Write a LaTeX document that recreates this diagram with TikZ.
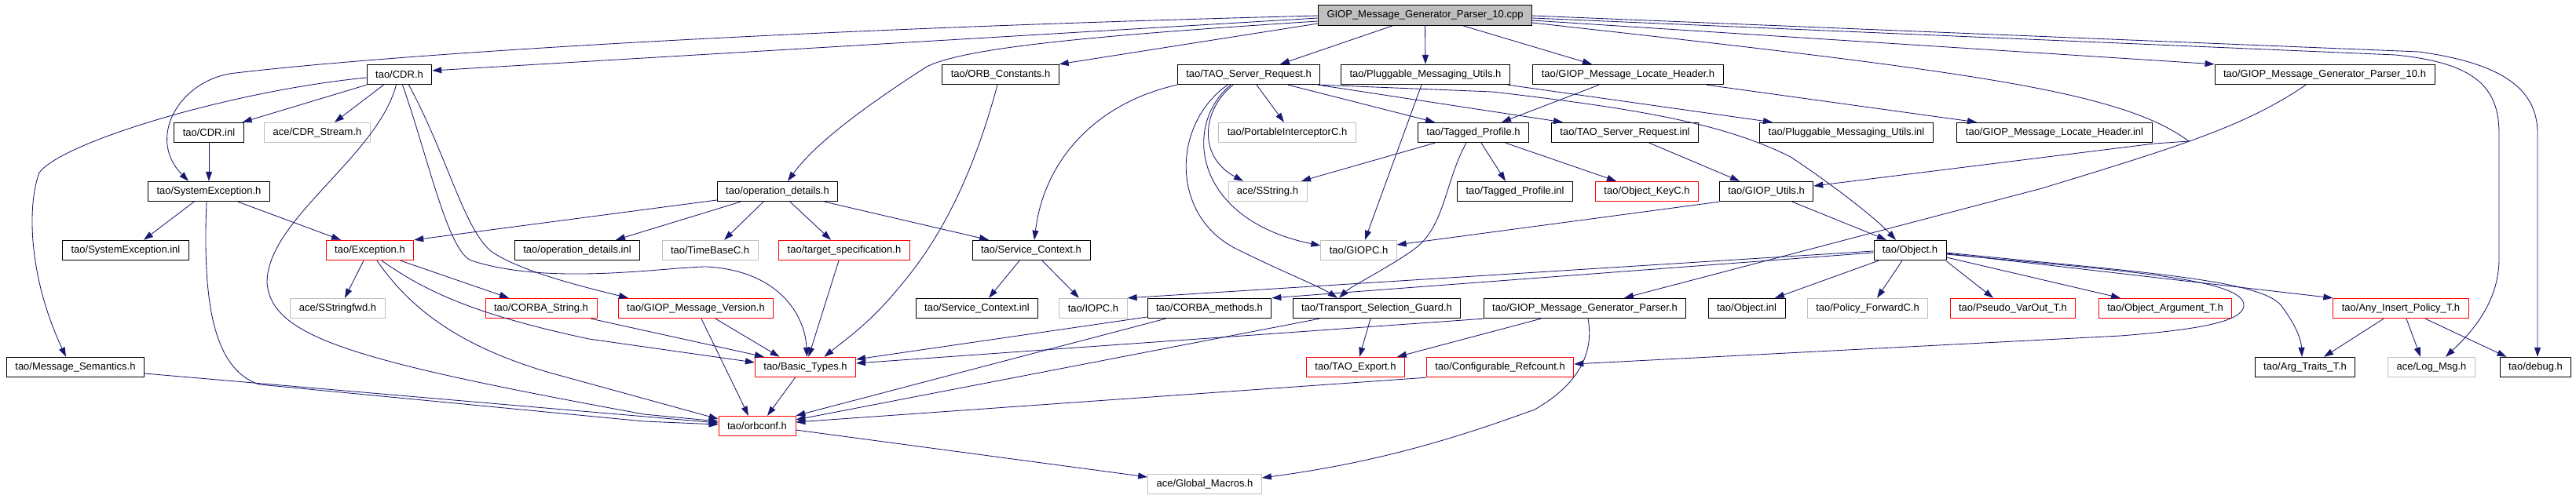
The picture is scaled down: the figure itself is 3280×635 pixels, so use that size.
\documentclass[tikz,border=0pt]{standalone}
\usepackage{fontspec}
\usetikzlibrary{arrows.meta}
\newfontfamily\dxfont{Liberation Sans}
\definecolor{edgec}{HTML}{191970}
\definecolor{greyc}{HTML}{BFBFBF}
\tikzset{
  nb/.style={draw=black, line width=0.9pt, rectangle, inner xsep=11pt, inner ysep=0pt,
             minimum height=25.5pt, font=\dxfont\fontsize{13}{15}\selectfont, text=black, fill=white},
  nr/.style={nb, draw=red},
  ng/.style={nb, draw=greyc},
  ncpp/.style={nb, fill=greyc},
  ed/.style={draw=edgec, line width=0.85pt, -{Triangle[length=12pt,width=8pt]}}
}
\begin{document}
\begin{tikzpicture}[x=1pt,y=-1pt]
\useasboundingbox (0,0) rectangle (3280,635);
% nodes
\node[ncpp] (cpp) at (1814.5,19.5) {GIOP\_Message\_Generator\_Parser\_10.cpp};
\node[nb] (CDR) at (508.5,95) {tao/CDR.h};
\node[nb] (ORBC) at (1274,95) {tao/ORB\_Constants.h};
\node[nb] (TSR) at (1590,95) {tao/TAO\_Server\_Request.h};
\node[nb] (PMU) at (1815,95) {tao/Pluggable\_Messaging\_Utils.h};
\node[nb] (GMLH) at (2073,95) {tao/GIOP\_Message\_Locate\_Header.h};
\node[nb] (GMGP10) at (2960,95) {tao/GIOP\_Message\_Generator\_Parser\_10.h};
\node[nb] (CDRinl) at (266,169) {tao/CDR.inl};
\node[ng] (CDRS) at (404,169) {ace/CDR\_Stream.h};
\node[ng] (PIC) at (1639,169) {tao/PortableInterceptorC.h};
\node[nb] (TP) at (1876,169) {tao/Tagged\_Profile.h};
\node[nb] (TSRinl) at (2069,169) {tao/TAO\_Server\_Request.inl};
\node[nb] (PMUinl) at (2351,169) {tao/Pluggable\_Messaging\_Utils.inl};
\node[nb] (GMLHinl) at (2616,169) {tao/GIOP\_Message\_Locate\_Header.inl};
\node[nb] (SE) at (266,244) {tao/SystemException.h};
\node[nb] (OD) at (990,244) {tao/operation\_details.h};
\node[ng] (SS) at (1614,244) {ace/SString.h};
\node[nb] (TPinl) at (1929,244) {tao/Tagged\_Profile.inl};
\node[nr] (OKC) at (2097,244) {tao/Object\_KeyC.h};
\node[nb] (GU) at (2249,244) {tao/GIOP\_Utils.h};
\node[nb] (SEinl) at (160,319) {tao/SystemException.inl};
\node[nr] (Exc) at (471,319) {tao/Exception.h};
\node[nb] (ODinl) at (735,319) {tao/operation\_details.inl};
\node[ng] (TBC) at (904,319) {tao/TimeBaseC.h};
\node[nr] (TS) at (1075,319) {tao/target\_specification.h};
\node[nb] (SC) at (1313,319) {tao/Service\_Context.h};
\node[ng] (GIOPC) at (1730,319) {tao/GIOPC.h};
\node[nb] (Obj) at (2432,319) {tao/Object.h};
\node[ng] (SSfwd) at (430,393) {ace/SStringfwd.h};
\node[nr] (CS) at (689,393) {tao/CORBA\_String.h};
\node[nr] (GMV) at (886,393) {tao/GIOP\_Message\_Version.h};
\node[nb] (SCinl) at (1244,393) {tao/Service\_Context.inl};
\node[ng] (IOPC) at (1392,393) {tao/IOPC.h};
\node[nb] (CM) at (1540,393) {tao/CORBA\_methods.h};
\node[nb] (TSG) at (1753,393) {tao/Transport\_Selection\_Guard.h};
\node[nb] (GMGP) at (2018,393) {tao/GIOP\_Message\_Generator\_Parser.h};
\node[nb] (Objinl) at (2224,393) {tao/Object.inl};
\node[ng] (PFC) at (2378,393) {tao/Policy\_ForwardC.h};
\node[nr] (PVO) at (2563,393) {tao/Pseudo\_VarOut\_T.h};
\node[nr] (OAT) at (2757,393) {tao/Object\_Argument\_T.h};
\node[nr] (AIP) at (3057,393) {tao/Any\_Insert\_Policy\_T.h};
\node[nb] (MS) at (96,468) {tao/Message\_Semantics.h};
\node[nr] (BT) at (1025.5,468) {tao/Basic\_Types.h};
\node[nr] (TE) at (1726,468) {tao/TAO\_Export.h};
\node[nr] (CR) at (1910,468) {tao/Configurable\_Refcount.h};
\node[nb] (ATT) at (2935,468) {tao/Arg\_Traits\_T.h};
\node[ng] (LM) at (3096,468) {ace/Log\_Msg.h};
\node[nb] (DBG) at (3228.5,468) {tao/debug.h};
\node[nr] (OC) at (964,543) {tao/orbconf.h};
\node[ng] (GM) at (1534,617) {ace/Global\_Macros.h};
% edges from cpp
\draw[ed] ([yshift=-0.5pt]cpp.west) .. controls (900,40) and (450,75) .. (300,93) .. controls (230,100) and (185,175) .. ([xshift=-26pt]SE.north);
\draw[ed] ([yshift=-3.5pt]cpp.west) -- ([yshift=5pt]CDR.east);
\draw[ed] ([yshift=-7.5pt]cpp.west) .. controls (1400,45) and (1230,60) .. (1180,85) .. controls (1110,130) and (1040,180) .. ([xshift=13pt]OD.north);
\draw[ed] ([yshift=-10.5pt]cpp.west) -- (ORBC.north east);
\draw[ed] ([xshift=-41pt]cpp.south) -- ([xshift=40pt]TSR.north);
\draw[ed] (cpp.south) -- (PMU.north);
\draw[ed] ([xshift=48pt]cpp.south) -- ([xshift=-46pt]GMLH.north);
\draw[ed] ([yshift=-6.5pt]cpp.east) -- (GMGP10.north west);
\draw[ed] ([yshift=-0.5pt]cpp.east) -- (3080,66) .. controls (3180,80) and (3231,110) .. (3231,170) -- ([xshift=2.5pt]DBG.north);
\draw[ed] ([yshift=-3.5pt]cpp.east) -- (3050,70) .. controls (3150,80) and (3182,110) .. (3182,170) -- (3182,330) .. controls (3182,390) and (3140,430) .. ([xshift=18pt]LM.north);
\draw[ed] ([yshift=-9.5pt]cpp.east) .. controls (2500,90) and (2700,115) .. (2787,180) -- (2743,183) -- ([yshift=7pt]GU.east);
% CDR
\draw[ed] (CDR.south west) -- ([xshift=-2pt]CDRinl.north east);
\draw[ed] ([xshift=-20pt]CDR.south) -- ([xshift=22pt]CDRS.north);
\draw[ed] ([yshift=-4pt]CDR.west) .. controls (300,115) and (80,180) .. (50,220) .. controls (35,260) and (35,350) .. ([xshift=-12pt]MS.north);
\draw[ed] ([xshift=-4pt]CDR.south) .. controls (480,200) and (340,280) .. (340,360) .. controls (345,430) and (450,460) .. (820,528) -- ([yshift=6pt]OC.west);
\draw[ed] ([xshift=4pt]CDR.south) .. controls (545,200) and (570,320) .. (600,332) .. controls (700,365) and (850,340) .. (900,340) .. controls (990,345) and (1025,400) .. ([xshift=2pt]BT.north);
\draw[ed] ([xshift=12pt]CDR.south) .. controls (570,200) and (590,290) .. (625,320) .. controls (660,345) and (740,365) .. ([xshift=-86pt]GMV.north);
\draw[ed] (CDRinl.south) -- (SE.north);
% SystemException
\draw[ed] ([xshift=-19pt]SE.south) -- ([xshift=23pt]SEinl.north);
\draw[ed] ([xshift=37pt]SE.south) -- ([xshift=-37pt]Exc.north);
\draw[ed] ([xshift=-3pt]SE.south) .. controls (258,380) and (270,470) .. (330,490) -- (820,537) -- ([yshift=2pt]OC.west);
\draw[ed] ([yshift=-8pt]MS.east) -- ([yshift=4pt]OC.west);
% Exception
\draw[ed] ([xshift=-8pt]Exc.south) -- ([xshift=9pt]SSfwd.north);
\draw[ed] ([xshift=39pt]Exc.south) -- ([xshift=-41pt]CS.north);
\draw[ed] ([xshift=15pt]Exc.south) .. controls (540,370) and (600,400) .. (750,432) -- ([yshift=6pt]BT.west);
\draw[ed] ([xshift=9pt]Exc.south) .. controls (520,390) and (580,440) .. (700,475) -- ([yshift=9pt]OC.west);
% operation_details
\draw[ed] ([yshift=-11pt]OD.west) -- (Exc.north east);
\draw[ed] ([xshift=-47pt]OD.south) -- ([xshift=49pt]ODinl.north);
\draw[ed] ([xshift=-18pt]OD.south) -- ([xshift=18pt]TBC.north);
\draw[ed] ([xshift=16pt]OD.south) -- ([xshift=-17pt]TS.north);
\draw[ed] ([xshift=60pt]OD.south) -- ([xshift=-54pt]SC.north);
\draw[ed] ([xshift=-7pt]TS.south) -- ([xshift=4pt]BT.north);
\draw[ed] ([xshift=-4pt]ORBC.south) .. controls (1240,220) and (1200,300) .. (1150,360) .. controls (1110,410) and (1080,430) .. ([xshift=24pt]BT.north);
% Version, String
\draw[ed] ([xshift=25pt]GMV.south) -- ([xshift=-33pt]BT.north);
\draw[ed] ([xshift=7pt]GMV.south) -- ([xshift=-11pt]OC.north);
\draw[ed] ([xshift=-8pt]CS.south east) -- ([xshift=12pt]BT.north west);
% Service context
\draw[ed] ([xshift=-15pt]SC.south) -- ([xshift=15pt]SCinl.north);
\draw[ed] ([xshift=14pt]SC.south) -- ([xshift=-18pt]IOPC.north);
% CORBA methods
\draw[ed] ([yshift=-11pt]CM.west) -- ([yshift=10pt]BT.east);
\draw[ed] ([xshift=-56pt]CM.south) -- (OC.north east);
% basic types, orbconf
\draw[ed] ([xshift=-13pt]BT.south) -- ([xshift=13pt]OC.north);
\draw[ed] ([yshift=-5pt]OC.east) -- ([yshift=9pt]GM.west);
% TAO_Server_Request
\draw[ed] (TSR.south west) .. controls (1400,130) and (1330,200) .. ([xshift=4pt]SC.north);
\draw[ed] ([xshift=10pt]TSR.south) -- ([xshift=-4pt]PIC.north);
\draw[ed] ([xshift=-20pt]TSR.south) .. controls (1530,140) and (1525,200) .. ([xshift=-31pt]SS.north);
\draw[ed] ([xshift=-23pt]TSR.south) .. controls (1505,160) and (1520,280) .. ([yshift=6pt]GIOPC.west);
\draw[ed] ([xshift=-27pt]TSR.south) .. controls (1490,160) and (1490,280) .. (1580,320) .. controls (1630,345) and (1680,365) .. ([xshift=-50pt]TSG.north);
\draw[ed] ([xshift=50pt]TSR.south) -- ([xshift=-49pt]TP.north);
\draw[ed] ([xshift=-3pt]TSR.south east) -- ([xshift=-79pt]TSRinl.north);
\draw[ed] (TSR.south east) -- (1900,117) .. controls (2100,140) and (2200,160) .. (2280,200) .. controls (2340,240) and (2390,280) .. ([xshift=-18pt]Obj.north);
% Pluggable
\draw[ed] ([xshift=-3pt]PMU.south east) -- ([xshift=-94pt]PMUinl.north);
\draw[ed] ([xshift=-5pt]PMU.south) -- ([xshift=8pt]GIOPC.north);
% Locate header
\draw[ed] ([xshift=-37pt]GMLH.south) -- ([xshift=36pt]TP.north);
\draw[ed] ([xshift=100pt]GMLH.south) -- ([xshift=-99pt]GMLHinl.north);
% Generator parser 10
\draw[ed] ([xshift=-24pt]GMGP10.south) .. controls (2860,160) and (2780,185) .. (2600,240) -- ([xshift=50pt]GMGP.north);
% Tagged profile
\draw[ed] ([xshift=-49pt]TP.south) -- ([xshift=43pt]SS.north);
\draw[ed] ([xshift=10pt]TP.south) -- ([xshift=-12pt]TPinl.north);
\draw[ed] ([xshift=41pt]TP.south) -- ([xshift=-39pt]OKC.north);
\draw[ed] ([xshift=-9pt]TP.south) .. controls (1840,230) and (1840,290) .. (1800,318) .. controls (1770,340) and (1720,365) .. ([xshift=-48pt]TSG.north);
% TSR inl, GIOP utils
\draw[ed] ([xshift=31pt]TSRinl.south) -- ([xshift=-34pt]GU.north);
\draw[ed] (GU.south west) -- ([yshift=7pt]GIOPC.east);
\draw[ed] ([xshift=33pt]GU.south) -- ([xshift=-30pt]Obj.north);
% Object
\draw[ed] ([yshift=-1pt]Obj.west) -- (IOPC.north east);
\draw[ed] ([yshift=-3pt]Obj.west) -- (CM.north east);
\draw[ed] ([xshift=-40pt]Obj.south) -- ([xshift=36pt]Objinl.north);
\draw[ed] ([xshift=-10pt]Obj.south) -- ([xshift=12pt]PFC.north);
\draw[ed] ([yshift=-14pt]Obj.east) -- ([xshift=-25pt]PVO.north);
\draw[ed] ([yshift=-9pt]Obj.east) -- ([xshift=-57pt]OAT.north);
\draw[ed] ([yshift=-4pt]Obj.east) -- (AIP.north west);
\draw[ed] ([yshift=-3pt]Obj.east) .. controls (2700,345) and (2880,355) .. (2905,390) .. controls (2920,410) and (2930,430) .. ([xshift=-4pt]ATT.north);
\draw[ed] ([yshift=-5pt]Obj.east) .. controls (2700,345) and (2860,355) .. (2857,390) .. controls (2855,410) and (2800,420) .. (2700,428) -- ([yshift=4pt]CR.east);
% Any insert
\draw[ed] ([xshift=-22pt]AIP.south) -- ([xshift=24pt]ATT.north);
\draw[ed] ([xshift=7pt]AIP.south) -- ([xshift=-14pt]LM.north);
\draw[ed] ([xshift=31pt]AIP.south) -- ([xshift=-37pt]DBG.north);
% TSG, GMGP, CR
\draw[ed] ([xshift=-8pt]TSG.south) -- ([xshift=5pt]TE.north);
\draw[ed] ([xshift=-73pt]TSG.south) -- ([yshift=8pt]OC.east);
\draw[ed] ([xshift=-56pt]GMGP.south) -- ([xshift=53pt]TE.north);
\draw[ed] (GMGP.south west) -- ([yshift=5pt]BT.east);
\draw[ed] ([xshift=4pt]GMGP.south) .. controls (2030,450) and (2010,490) .. (1954,522) .. controls (1850,560) and (1750,590) .. ([yshift=8pt]GM.east);
\draw[ed] (CR.south west) -- ([yshift=5pt]OC.east);
\end{tikzpicture}
\end{document}
